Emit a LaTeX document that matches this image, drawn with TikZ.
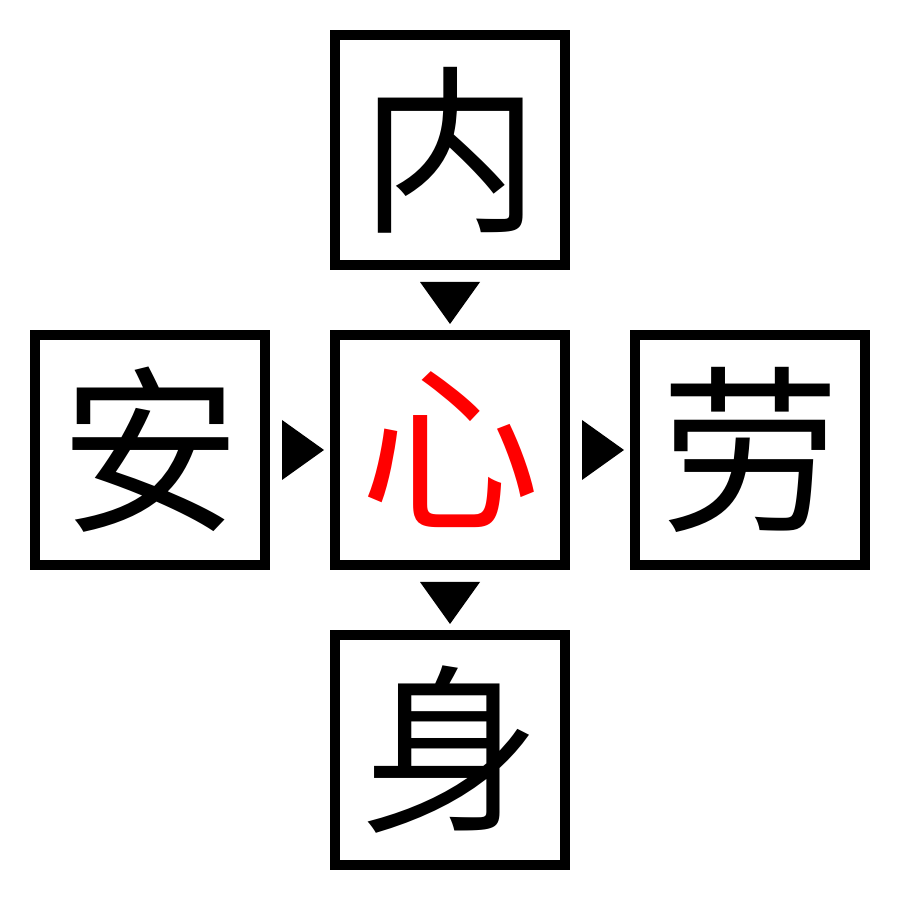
\documentclass[tikz,border=0pt]{standalone}
\usepackage{fontspec}
\newfontfamily\cjk{Noto Sans CJK SC}
\usetikzlibrary{calc}
\tikzset{
  charbox/.style={draw=black, line width=10pt, minimum size=230pt, inner sep=0pt, fill=white},
  chartext/.style={font=\cjk\fontsize{180pt}{180pt}\selectfont, inner sep=0pt},
  tri/.style={fill=black, draw=none}
}
\begin{document}
\begin{tikzpicture}[x=1pt,y=1pt]
\useasboundingbox (0,0) rectangle (900,900);
\fill[white] (0,0) rectangle (900,900);
\node[charbox] (top) at (450,750) {};
\node[charbox] (mid) at (450,450) {};
\node[charbox] (lft) at (150,450) {};
\node[charbox] (rgt) at (750,450) {};
\node[charbox] (bot) at (450,150) {};
\node[chartext] (ttop) at (top.center) {内};
\node[chartext, text=red] (tmid) at (mid.center) {心};
\node[chartext] (tlft) at (lft.center) {安};
\node[chartext] (trgt) at (rgt.center) {劳};
\node[chartext] (tbot) at (bot.center) {身};
% arrowheads
\fill[tri] ($(top.south)+(-30,-12)$) -- ($(top.south)+(30,-12)$) -- ($(top.south)+(0,-54)$) -- cycle;
\fill[tri] ($(mid.south)+(-30,-12)$) -- ($(mid.south)+(30,-12)$) -- ($(mid.south)+(0,-54)$) -- cycle;
\fill[tri] ($(lft.east)+(12,30)$) -- ($(lft.east)+(12,-30)$) -- ($(lft.east)+(54,0)$) -- cycle;
\fill[tri] ($(mid.east)+(12,30)$) -- ($(mid.east)+(12,-30)$) -- ($(mid.east)+(54,0)$) -- cycle;
\end{tikzpicture}
\end{document}
